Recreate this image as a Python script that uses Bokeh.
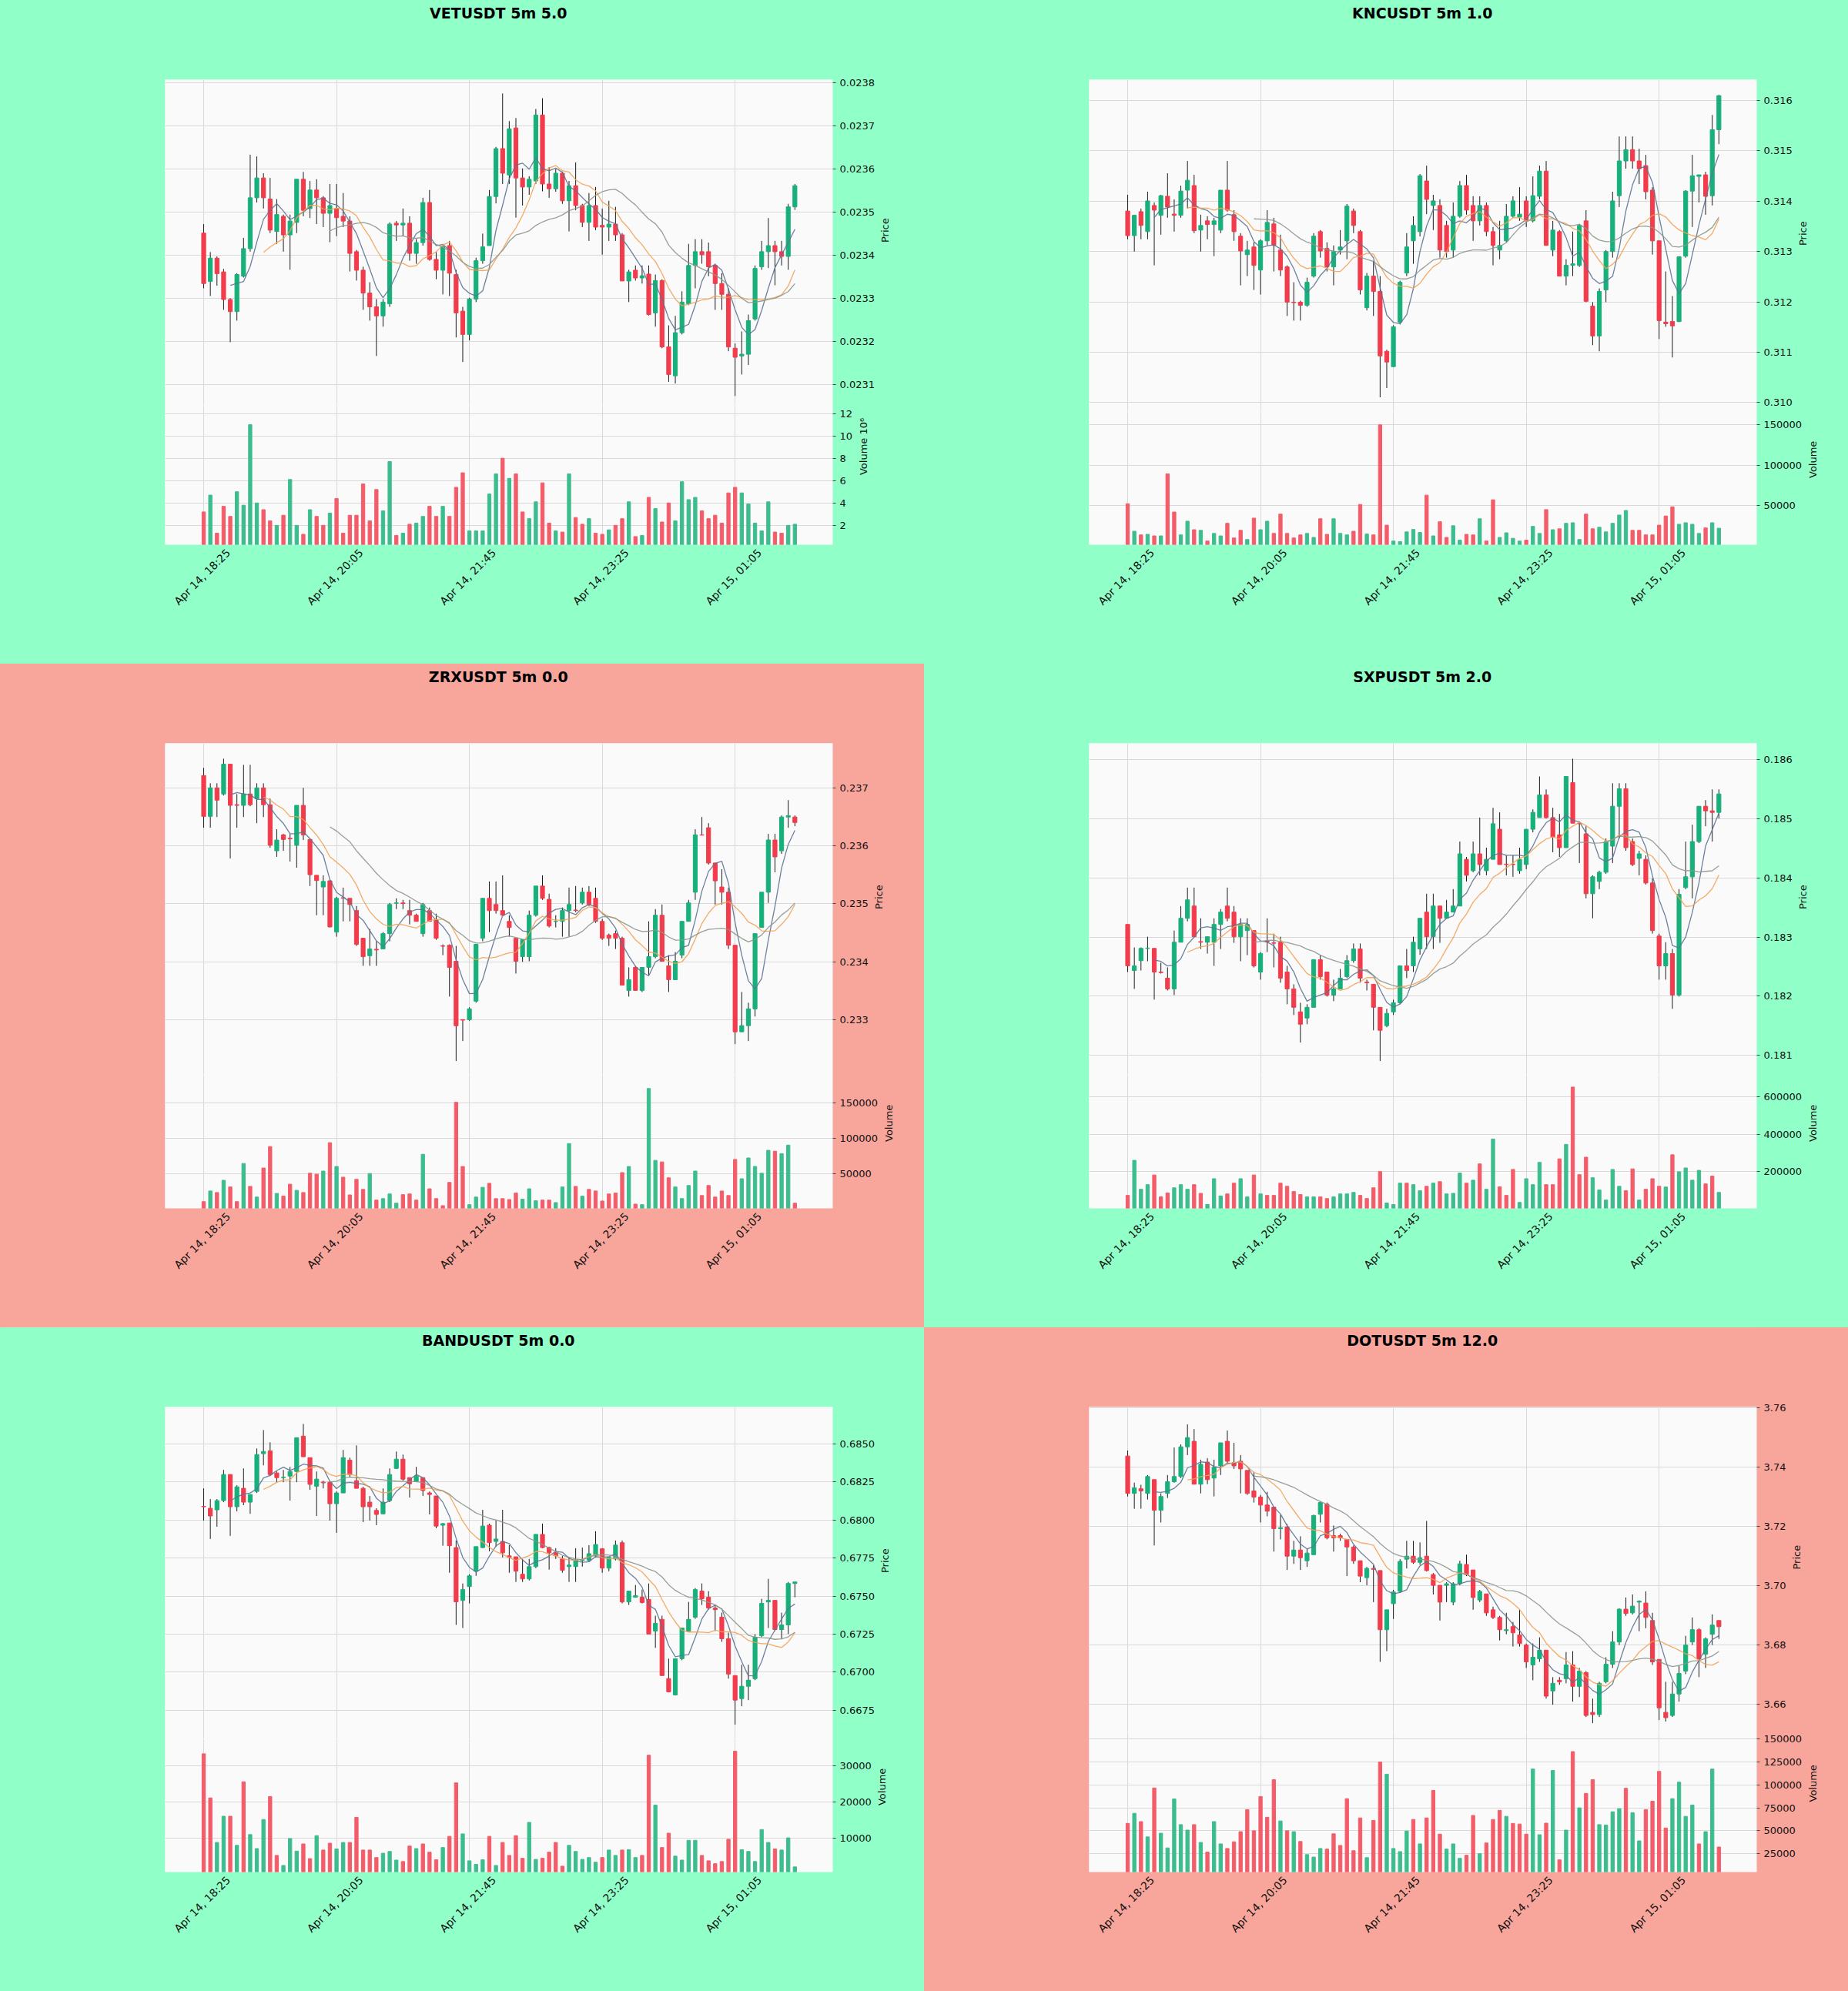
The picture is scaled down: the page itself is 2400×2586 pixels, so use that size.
import math
import numpy as np
import pandas as pd
from bokeh.plotting import figure
from bokeh.layouts import column, row
from bokeh.models import Range1d, FixedTicker, Grid, PrintfTickFormatter, ColumnDataSource
from bokeh.core.properties import value
from bokeh.embed import file_html
from bokeh.resources import INLINE

# ---------------- data ----------------
TIME_TICKS = [0, 20, 40, 60, 80]
TIME_LABELS = ["Apr 14, 18:25", "Apr 14, 20:05", "Apr 14, 21:45", "Apr 14, 23:25", "Apr 15, 01:05"]
MAV_PERIODS = [5, 10, 20]

VET_O = [0.023451,0.023339,0.023393,0.023361,0.023297,0.023269,0.023351,0.023415,0.023533,0.023579,
0.023530,0.023455,0.023490,0.023447,0.023476,0.023576,0.023508,0.023551,0.023533,0.023497,
0.023508,0.023490,0.023479,0.023408,0.023365,0.023312,0.023280,0.023259,0.023287,0.023474,
0.023470,0.023474,0.023404,0.023429,0.023522,0.023390,0.023365,0.023422,0.023355,0.023270,
0.023216,0.023298,0.023387,0.023422,0.023536,0.023647,0.023586,0.023695,0.023579,0.023558,
0.023572,0.023725,0.023565,0.023554,0.023590,0.023526,0.023561,0.023515,0.023476,0.023515,
0.023469,0.023465,0.023472,0.023447,0.023340,0.023365,0.023347,0.023356,0.023266,0.023341,
0.023187,0.023120,0.023220,0.023287,0.023376,0.023408,0.023408,0.023376,0.023334,0.023309,
0.023184,0.023166,0.023170,0.023252,0.023373,0.023408,0.023422,0.023408,0.023397,0.023512]
VET_H = [0.023472,0.023407,0.023397,0.023368,0.023300,0.023358,0.023440,0.023633,0.023629,0.023590,
0.023579,0.023530,0.023494,0.023494,0.023576,0.023593,0.023572,0.023576,0.023537,0.023565,
0.023565,0.023544,0.023490,0.023412,0.023373,0.023337,0.023298,0.023298,0.023476,0.023479,
0.023508,0.023490,0.023437,0.023533,0.023551,0.023408,0.023422,0.023433,0.023366,0.023280,
0.023301,0.023394,0.023450,0.023551,0.023651,0.023775,0.023711,0.023718,0.023601,0.023583,
0.023739,0.023764,0.023604,0.023600,0.023594,0.023572,0.023615,0.023519,0.023544,0.023558,
0.023508,0.023526,0.023512,0.023451,0.023366,0.023376,0.023376,0.023376,0.023355,0.023344,
0.023237,0.023259,0.023316,0.023426,0.023437,0.023437,0.023429,0.023380,0.023358,0.023323,
0.023195,0.023223,0.023262,0.023376,0.023433,0.023486,0.023433,0.023433,0.023519,0.023565]
VET_L = [0.023323,0.023305,0.023329,0.023273,0.023198,0.023248,0.023348,0.023408,0.023522,0.023508,
0.023451,0.023426,0.023408,0.023366,0.023451,0.023490,0.023486,0.023472,0.023465,0.023430,
0.023444,0.023465,0.023362,0.023341,0.023273,0.023248,0.023166,0.023234,0.023280,0.023433,
0.023444,0.023387,0.023380,0.023422,0.023387,0.023344,0.023309,0.023305,0.023209,0.023152,
0.023202,0.023291,0.023380,0.023422,0.023520,0.023565,0.023565,0.023487,0.023515,0.023540,
0.023565,0.023548,0.023533,0.023547,0.023519,0.023455,0.023504,0.023465,0.023433,0.023458,
0.023401,0.023433,0.023433,0.023340,0.023291,0.023341,0.023334,0.023260,0.023234,0.023184,
0.023106,0.023102,0.023216,0.023284,0.023323,0.023380,0.023351,0.023273,0.023273,0.023177,
0.023073,0.023123,0.023145,0.023248,0.023366,0.023370,0.023330,0.023376,0.023366,0.023505]
VET_C = [0.023334,0.023393,0.023357,0.023297,0.023269,0.023355,0.023415,0.023533,0.023579,0.023533,
0.023458,0.023494,0.023447,0.023479,0.023576,0.023504,0.023551,0.023533,0.023497,0.023515,
0.023487,0.023479,0.023404,0.023365,0.023312,0.023280,0.023259,0.023291,0.023472,0.023470,
0.023474,0.023404,0.023429,0.023522,0.023390,0.023365,0.023419,0.023358,0.023266,0.023216,
0.023298,0.023387,0.023419,0.023536,0.023647,0.023590,0.023693,0.023579,0.023558,0.023576,
0.023725,0.023565,0.023554,0.023590,0.023526,0.023561,0.023515,0.023476,0.023515,0.023465,
0.023465,0.023472,0.023447,0.023340,0.023361,0.023347,0.023352,0.023262,0.023341,0.023187,
0.023123,0.023220,0.023291,0.023376,0.023408,0.023401,0.023373,0.023334,0.023309,0.023187,
0.023163,0.023170,0.023248,0.023369,0.023408,0.023422,0.023408,0.023397,0.023512,0.023561]
VET_V = [3.2e6,4.7e6,1.3e6,3.7e6,2.8e6,5.0e6,3.8e6,11.0e6,4.0e6,3.4e6,
2.4e6,2.0e6,2.9e6,6.1e6,2.0e6,1.2e6,3.4e6,2.8e6,2.0e6,3.1e6,
4.4e6,1.3e6,2.9e6,2.9e6,5.7e6,2.4e6,5.2e6,3.3e6,7.7e6,1.1e6,
1.3e6,2.1e6,2.2e6,2.8e6,3.7e6,2.8e6,3.7e6,2.8e6,5.4e6,6.7e6,
1.5e6,1.5e6,1.5e6,4.8e6,6.6e6,8.0e6,6.2e6,6.6e6,3.2e6,2.6e6,
4.1e6,5.8e6,2.2e6,1.5e6,1.4e6,6.6e6,2.7e6,2.1e6,2.6e6,1.3e6,
1.2e6,1.6e6,2.0e6,2.6e6,4.1e6,1.0e6,1.1e6,4.5e6,3.5e6,2.3e6,
4.0e6,2.4e6,5.9e6,4.3e6,4.5e6,3.3e6,2.6e6,2.9e6,2.2e6,4.9e6,
5.4e6,4.9e6,3.9e6,2.2e6,1.5e6,4.1e6,1.4e6,1.3e6,2.0e6,2.1e6]

KNC_O = [0.313805,0.313317,0.313793,0.313396,0.313915,0.313720,0.314098,0.313744,0.313720,0.314220,
0.314311,0.313427,0.313610,0.313537,0.313427,0.314220,0.313732,0.313305,0.312939,0.313091,
0.312634,0.313213,0.313549,0.313030,0.312695,0.311994,0.311994,0.311933,0.312512,0.313396,
0.313061,0.312695,0.313030,0.313213,0.313805,0.313396,0.311884,0.312512,0.312207,0.311018,
0.310713,0.311598,0.312573,0.313213,0.313396,0.314402,0.313915,0.313915,0.313518,0.313030,
0.313701,0.314311,0.313915,0.313610,0.313915,0.313396,0.313030,0.313213,0.313701,0.313683,
0.314006,0.313610,0.314098,0.314598,0.313030,0.313396,0.312512,0.312726,0.312726,0.313610,
0.311915,0.311323,0.312238,0.313000,0.314110,0.314800,0.315024,0.314800,0.314707,0.314220,
0.313213,0.311598,0.311610,0.311610,0.312909,0.314201,0.314494,0.314524,0.314110,0.315421]
KNC_H = [0.314128,0.313732,0.313854,0.314189,0.313976,0.314128,0.314555,0.314037,0.314310,0.314800,
0.314524,0.313732,0.313701,0.313671,0.314220,0.314800,0.313823,0.313366,0.313213,0.313183,
0.313244,0.313823,0.313671,0.313335,0.312726,0.312390,0.312024,0.312482,0.313366,0.313427,
0.313183,0.313122,0.313427,0.313945,0.313854,0.313427,0.312573,0.312817,0.312512,0.311049,
0.311537,0.312420,0.313366,0.313701,0.314540,0.314707,0.314128,0.314037,0.313610,0.313976,
0.314402,0.314524,0.314098,0.314098,0.313976,0.313488,0.313610,0.313945,0.314098,0.314280,
0.314098,0.314494,0.314707,0.314800,0.313610,0.313427,0.312848,0.313396,0.313549,0.313823,
0.311994,0.312268,0.313030,0.314189,0.315287,0.315287,0.315287,0.315043,0.314921,0.314280,
0.313213,0.312604,0.312116,0.312909,0.314220,0.314921,0.314524,0.314585,0.315713,0.316110]
KNC_L = [0.313244,0.313000,0.313244,0.313244,0.312726,0.313335,0.313671,0.313396,0.313671,0.313854,
0.313366,0.313000,0.313244,0.312909,0.313366,0.313793,0.313213,0.312329,0.312512,0.312238,
0.312146,0.313122,0.312604,0.312512,0.311720,0.311628,0.311628,0.311902,0.312482,0.312878,
0.312604,0.312329,0.312939,0.312848,0.313366,0.312146,0.311830,0.311720,0.310104,0.310287,
0.310713,0.311550,0.312512,0.312756,0.313300,0.313744,0.313427,0.312878,0.312878,0.312878,
0.313671,0.313732,0.313213,0.313518,0.313305,0.312726,0.312848,0.313183,0.313671,0.313610,
0.313488,0.313580,0.314037,0.313122,0.312909,0.312512,0.312329,0.312512,0.312695,0.311994,
0.311140,0.311018,0.311994,0.312878,0.313884,0.314646,0.314646,0.314340,0.314037,0.312939,
0.311262,0.311506,0.310896,0.311598,0.312878,0.313488,0.313976,0.313732,0.313915,0.315134]
KNC_C = [0.313317,0.313720,0.313518,0.314006,0.313823,0.314110,0.313884,0.313720,0.314201,0.314415,
0.313415,0.313518,0.313537,0.313610,0.314220,0.313823,0.313396,0.313012,0.313030,0.312726,
0.313213,0.313579,0.313122,0.312634,0.311994,0.311985,0.311933,0.312390,0.313305,0.313012,
0.312695,0.313000,0.313091,0.313902,0.313518,0.312238,0.312512,0.312207,0.310927,0.310805,
0.311506,0.312390,0.313091,0.313518,0.314506,0.314037,0.314006,0.313030,0.313000,0.313701,
0.314311,0.313823,0.313610,0.313915,0.313396,0.313122,0.313122,0.313701,0.314006,0.313744,
0.313610,0.314110,0.314598,0.313122,0.313427,0.312512,0.312726,0.312756,0.313518,0.312012,
0.311323,0.312207,0.313000,0.314006,0.314800,0.315024,0.314800,0.314646,0.314189,0.313213,
0.311628,0.311567,0.311524,0.312896,0.314201,0.314506,0.314524,0.314098,0.315421,0.316098]
KNC_V = [52400,18500,14000,14700,12800,12800,89300,42200,14000,30900,
20400,19600,6400,15800,12800,28300,10200,19600,8300,34700,
20400,30900,15800,39600,15800,10200,14000,15800,10900,33900,
14700,33900,15800,14000,18500,51600,15100,14000,149700,26000,
6400,5700,17700,20700,17000,63000,12800,30200,10900,25300,
7500,14700,14000,33900,6400,57300,10900,16600,9800,6400,
7500,24500,15800,45200,20400,21500,28300,29000,8300,39600,
21500,23400,17700,28300,38500,44100,19600,19600,14000,14000,
26000,37300,48600,27100,29000,27100,15800,22600,29000,22200]

ZRX_O = [0.237212,0.236508,0.237000,0.236894,0.237407,0.236709,0.236698,0.236894,0.236815,0.237000,
0.236709,0.235915,0.236190,0.236130,0.236011,0.236698,0.236110,0.235492,0.235291,0.235397,
0.234513,0.235106,0.235095,0.234884,0.234407,0.234106,0.234217,0.234222,0.234487,0.235011,
0.235016,0.234884,0.234804,0.234487,0.234884,0.234725,0.234275,0.234286,0.234011,0.233005,
0.233005,0.233323,0.234407,0.235095,0.234989,0.234884,0.234698,0.234407,0.234090,0.234090,
0.234804,0.235307,0.235079,0.234698,0.234698,0.234884,0.234894,0.235016,0.235201,0.235095,
0.234698,0.234460,0.234487,0.234407,0.233508,0.233905,0.233508,0.233905,0.234090,0.234804,
0.233931,0.233693,0.234116,0.234698,0.235201,0.236190,0.236312,0.235704,0.235291,0.235201,
0.234286,0.232794,0.232900,0.233190,0.234593,0.235201,0.236101,0.235915,0.236497,0.236497]
ZRX_H = [0.237344,0.237079,0.237079,0.237503,0.237407,0.236894,0.237397,0.237397,0.237079,0.237079,
0.236815,0.236286,0.236206,0.236206,0.236698,0.237000,0.236127,0.235492,0.235492,0.235413,
0.235122,0.235280,0.235095,0.234963,0.234407,0.234566,0.234354,0.234513,0.235016,0.235095,
0.235069,0.235069,0.234831,0.235016,0.234937,0.234831,0.234302,0.234302,0.234275,0.233005,
0.233217,0.234302,0.235095,0.235386,0.235386,0.235492,0.234804,0.234407,0.234381,0.234884,
0.235307,0.235492,0.235175,0.234804,0.234937,0.235280,0.235307,0.235280,0.235307,0.235280,
0.234740,0.234487,0.234540,0.234434,0.233905,0.233931,0.233905,0.234698,0.234910,0.234989,
0.234116,0.234169,0.234698,0.235069,0.236286,0.236497,0.236392,0.235704,0.235598,0.235280,
0.234286,0.233481,0.233296,0.234487,0.235201,0.236206,0.236206,0.236524,0.236788,0.236524]
ZRX_L = [0.236312,0.236312,0.236497,0.236868,0.235783,0.236312,0.236497,0.236683,0.236392,0.236497,
0.235968,0.235810,0.235915,0.235730,0.235624,0.236100,0.235307,0.234804,0.234804,0.234593,
0.234434,0.234698,0.234698,0.234275,0.233931,0.233931,0.233931,0.234222,0.234354,0.234910,
0.234910,0.234646,0.234698,0.234434,0.234698,0.234381,0.234116,0.233402,0.232291,0.232635,
0.232984,0.233296,0.234354,0.234513,0.234831,0.234804,0.234434,0.233799,0.234000,0.234011,
0.234780,0.235069,0.234593,0.234593,0.234434,0.234434,0.234857,0.234989,0.234963,0.234672,
0.234380,0.234275,0.234222,0.233598,0.233402,0.233508,0.233480,0.233772,0.234063,0.234011,
0.233481,0.233693,0.234063,0.234698,0.235069,0.236180,0.235677,0.234989,0.234989,0.234222,
0.232582,0.232794,0.232635,0.233058,0.234593,0.235016,0.235545,0.235862,0.236312,0.236339]
ZRX_C = [0.236508,0.237000,0.236788,0.237407,0.236698,0.236698,0.236894,0.236709,0.237000,0.236709,
0.236011,0.236100,0.236110,0.236120,0.236698,0.236190,0.235503,0.235402,0.235386,0.234603,
0.235095,0.235100,0.234989,0.234302,0.234090,0.234222,0.234206,0.234487,0.234989,0.235016,
0.235005,0.234804,0.234698,0.234989,0.234698,0.234407,0.234270,0.233905,0.232899,0.232995,
0.233190,0.234302,0.235095,0.234884,0.234884,0.234804,0.234593,0.234011,0.234381,0.234804,
0.235307,0.235095,0.234619,0.234698,0.234884,0.234989,0.234884,0.235201,0.234989,0.234698,
0.234407,0.234407,0.234407,0.233598,0.233693,0.233508,0.233905,0.234090,0.234804,0.234011,
0.233693,0.234011,0.234698,0.235016,0.236190,0.236185,0.235704,0.235397,0.235201,0.234286,
0.232794,0.232900,0.233190,0.234487,0.235201,0.236101,0.235810,0.236497,0.236520,0.236402]
ZRX_V = [10000,25200,23000,40400,30900,10000,64300,31700,16500,57800,
88300,21700,17800,34800,26100,23000,50400,49100,53500,93900,
60000,44800,19600,41700,27400,50000,12200,14300,20900,7800,
20000,20900,12200,77400,28300,14300,4300,37400,151300,60000,
5700,16500,30400,36100,14300,14300,13000,22200,13500,28300,
11300,12200,12200,8700,30900,92600,31700,17800,27400,25200,
10900,20900,22200,51300,60000,6500,5700,170900,68700,66500,
43900,30900,14300,33000,53500,18700,33000,16500,25200,18700,
70000,42600,72200,60000,50400,83000,81700,78300,90400,7800]

SXP_O = [0.183212,0.182435,0.182601,0.182808,0.182808,0.182409,0.182306,0.182124,0.182912,0.183316,
0.183523,0.182922,0.182912,0.182912,0.183212,0.183523,0.183420,0.183005,0.183109,0.183109,
0.182409,0.182930,0.182900,0.182912,0.182409,0.182124,0.181736,0.181632,0.181813,0.182617,
0.182409,0.182020,0.182124,0.182332,0.182601,0.182798,0.182238,0.182202,0.181813,0.181503,
0.181736,0.181891,0.182513,0.182513,0.182798,0.183420,0.183005,0.183523,0.183316,0.183420,
0.183523,0.184311,0.184119,0.184404,0.184119,0.184311,0.184819,0.184230,0.184230,0.184119,
0.184223,0.184819,0.185016,0.185399,0.185016,0.184725,0.184508,0.185606,0.184922,0.184741,
0.183731,0.183938,0.184093,0.184534,0.185207,0.185503,0.184611,0.184327,0.184311,0.183912,
0.183016,0.182513,0.182720,0.182021,0.183834,0.184016,0.184611,0.185207,0.185130,0.185104]
SXP_H = [0.183212,0.182824,0.182824,0.183005,0.182808,0.182565,0.182487,0.183109,0.183523,0.183834,
0.183834,0.183316,0.183005,0.183316,0.183472,0.183834,0.183523,0.183316,0.183316,0.183109,
0.182746,0.183316,0.183057,0.183005,0.182513,0.182202,0.181891,0.181865,0.182617,0.182694,
0.182409,0.182280,0.182461,0.182694,0.182891,0.182891,0.182280,0.182202,0.181813,0.181788,
0.181943,0.182513,0.182798,0.183005,0.183316,0.183731,0.183731,0.183523,0.183627,0.183808,
0.184611,0.184352,0.184611,0.185016,0.184508,0.185181,0.185104,0.184378,0.184378,0.184508,
0.184819,0.185155,0.185710,0.185492,0.185181,0.185078,0.185710,0.186010,0.184922,0.184870,
0.184041,0.184119,0.184663,0.185596,0.185596,0.185596,0.184663,0.184456,0.184378,0.183990,
0.183057,0.182912,0.182798,0.183808,0.184611,0.184896,0.185207,0.185311,0.185492,0.185492]
SXP_L = [0.182409,0.182124,0.182435,0.182591,0.181943,0.182383,0.182098,0.182020,0.182912,0.183264,
0.183005,0.182798,0.182720,0.182513,0.182798,0.183264,0.182902,0.182591,0.182694,0.182487,
0.182280,0.182746,0.182487,0.182228,0.181865,0.181684,0.181218,0.181528,0.181813,0.182280,
0.181995,0.181917,0.182124,0.182306,0.182565,0.182228,0.182098,0.181425,0.180907,0.181477,
0.181684,0.181865,0.182306,0.182409,0.182700,0.182798,0.182798,0.182902,0.183316,0.183420,
0.183523,0.183938,0.184093,0.184041,0.184041,0.184311,0.184223,0.184041,0.184016,0.184067,
0.184145,0.184767,0.185016,0.185000,0.184430,0.184352,0.184508,0.184922,0.184249,0.183653,
0.183316,0.183808,0.184067,0.184249,0.184663,0.184456,0.184197,0.184041,0.183886,0.183057,
0.182280,0.182280,0.181788,0.181995,0.183808,0.183653,0.184585,0.184870,0.184611,0.185000]
SXP_C = [0.182513,0.182513,0.182808,0.182813,0.182409,0.182400,0.182124,0.182912,0.183316,0.183627,
0.183005,0.182912,0.183005,0.183212,0.183420,0.183316,0.183005,0.183212,0.183212,0.182513,
0.182720,0.182920,0.182895,0.182306,0.182124,0.181813,0.181528,0.181813,0.182617,0.182332,
0.182020,0.182124,0.182306,0.182601,0.182798,0.182306,0.182228,0.181813,0.181425,0.181710,
0.181891,0.182513,0.182435,0.182912,0.183316,0.183005,0.183523,0.183316,0.183420,0.183523,
0.184404,0.184041,0.184404,0.184223,0.184311,0.184912,0.184223,0.184223,0.184223,0.184311,
0.184819,0.185104,0.185399,0.185016,0.184689,0.184508,0.185710,0.184922,0.184912,0.183731,
0.184016,0.184093,0.184611,0.185207,0.185503,0.184508,0.184223,0.184404,0.183912,0.183109,
0.182513,0.182720,0.182021,0.183720,0.184016,0.184611,0.185207,0.185130,0.185104,0.185415]
SXP_V = [70000,259000,103000,128000,180000,62000,83000,111000,128000,103000,
128000,81000,21000,160000,67000,78000,136000,160000,62000,180000,
78000,70000,70000,136000,119000,91000,75000,62000,62000,62000,
53000,62000,78000,78000,86000,70000,53000,111000,198000,29000,
21000,136000,136000,128000,95000,119000,136000,144000,78000,81000,
190000,136000,152000,240000,103000,374000,116000,70000,210000,32000,
160000,128000,248000,128000,128000,267000,345000,654000,182000,276000,
165000,99000,45000,210000,119000,95000,213000,45000,103000,160000,
119000,115000,289000,197000,218000,152000,205000,132000,174000,86000]

BAND_O = [0.680887,0.680766,0.680665,0.681270,0.682984,0.680867,0.682077,0.681170,0.681875,0.684355,
0.684536,0.683085,0.682782,0.682883,0.683185,0.685504,0.684093,0.682218,0.682480,0.682480,
0.681069,0.681774,0.683931,0.682581,0.682077,0.681170,0.680625,0.680403,0.681270,0.683387,
0.683992,0.682782,0.682540,0.682782,0.681774,0.681573,0.679657,0.679798,0.678185,0.674718,
0.675625,0.676633,0.678185,0.679657,0.678589,0.678589,0.677641,0.677581,0.676431,0.676129,
0.676935,0.679052,0.678185,0.677843,0.677440,0.676935,0.676935,0.677339,0.677339,0.677641,
0.678105,0.676835,0.677440,0.678508,0.674617,0.674919,0.674919,0.674778,0.672702,0.673468,
0.669577,0.668508,0.670887,0.672702,0.673609,0.675323,0.674919,0.674214,0.673609,0.672198,
0.669778,0.668266,0.669073,0.669577,0.672399,0.674617,0.674718,0.672802,0.673105,0.675827]
BAND_H = [0.682077,0.681371,0.681371,0.683286,0.682984,0.682278,0.683387,0.681673,0.684698,0.685907,
0.685101,0.683185,0.683286,0.683488,0.685403,0.686310,0.684093,0.683185,0.682580,0.682580,
0.681875,0.684597,0.684093,0.684899,0.682177,0.681573,0.680766,0.682077,0.683387,0.684496,
0.684294,0.682782,0.683488,0.682782,0.681875,0.681573,0.679798,0.679798,0.678649,0.675827,
0.676431,0.678246,0.680665,0.679758,0.679960,0.680665,0.678347,0.677581,0.677440,0.677440,
0.679052,0.679758,0.678246,0.678145,0.677641,0.677540,0.678145,0.678185,0.678347,0.679254,
0.678145,0.677440,0.678649,0.678649,0.675323,0.675726,0.675423,0.675827,0.673710,0.673710,
0.670887,0.670887,0.672903,0.674617,0.675524,0.675827,0.675323,0.674415,0.673911,0.672601,
0.669778,0.670484,0.670484,0.672500,0.674819,0.676129,0.674718,0.673911,0.675927,0.675927]
BAND_L = [0.679960,0.678750,0.679556,0.681170,0.678952,0.680565,0.680970,0.680403,0.681774,0.683589,
0.682883,0.682480,0.682480,0.681270,0.682480,0.684153,0.681976,0.680262,0.682077,0.679960,
0.679153,0.681774,0.682782,0.682077,0.679859,0.679960,0.679657,0.680403,0.681170,0.683347,
0.682580,0.681472,0.682480,0.681573,0.680363,0.679456,0.678306,0.676532,0.673105,0.672903,
0.674516,0.676331,0.678145,0.677944,0.678246,0.677540,0.676532,0.675927,0.675927,0.676028,
0.676835,0.678145,0.676734,0.677440,0.676532,0.675927,0.675927,0.676935,0.677238,0.677540,
0.676532,0.676633,0.677339,0.674516,0.674415,0.674900,0.674516,0.672500,0.671593,0.669778,
0.668670,0.668468,0.670787,0.672702,0.673508,0.674415,0.674113,0.672702,0.671996,0.669577,
0.666552,0.667762,0.668165,0.669476,0.672298,0.672903,0.672702,0.672198,0.672500,0.674919]
BAND_C = [0.680867,0.680262,0.681270,0.682984,0.680867,0.682177,0.681170,0.681673,0.684294,0.684496,
0.682984,0.682782,0.682800,0.683185,0.685403,0.684153,0.682339,0.682681,0.682440,0.681069,
0.681774,0.684093,0.682984,0.682077,0.680867,0.680867,0.680363,0.681170,0.682984,0.683992,
0.682681,0.682379,0.682883,0.681935,0.681673,0.679597,0.679758,0.678306,0.674617,0.675423,
0.676331,0.678246,0.679597,0.678508,0.678750,0.677843,0.677540,0.676633,0.676129,0.676935,
0.679052,0.678185,0.677843,0.677641,0.676694,0.677036,0.677379,0.677379,0.677782,0.678387,
0.676835,0.677540,0.678347,0.674617,0.675323,0.675020,0.674577,0.672500,0.673206,0.669778,
0.668710,0.670887,0.672903,0.673468,0.675423,0.674819,0.674214,0.674113,0.672198,0.669879,
0.668165,0.669073,0.669476,0.672298,0.674516,0.674718,0.672802,0.673105,0.675827,0.675927]
BAND_V = [33400,21100,8700,16000,16000,7900,25600,10900,7000,15100,
21500,5100,2300,9800,6300,8300,4200,10600,6600,8500,
6900,8700,8700,15700,6600,6600,4500,5700,6200,3800,
3400,7700,7000,8300,6000,3900,7300,10400,25300,11100,
3600,2600,3900,10400,2300,8700,5100,10600,4300,14300,
4000,4300,6000,8700,2100,7900,6200,4000,4500,3200,
4500,6600,5100,6600,6700,4500,5100,33000,19100,7300,
11300,4900,3800,9300,9300,5100,3600,2800,3400,9600,
34100,6700,6200,3400,12300,8700,6900,6600,10000,1900]

DOT_O = [3.74368,3.73108,3.73263,3.73108,3.73572,3.72539,3.73108,3.73500,3.73676,3.74678,
3.74864,3.73418,3.74161,3.73624,3.74037,3.74864,3.74141,3.74192,3.73882,3.73190,
3.72984,3.72715,3.72643,3.71920,3.71972,3.70991,3.71197,3.70836,3.71042,3.72405,
3.72746,3.71682,3.71682,3.71558,3.71300,3.70836,3.70267,3.70577,3.70505,3.68511,
3.69389,3.69802,3.70887,3.70991,3.70784,3.70991,3.70370,3.70008,3.70008,3.69441,
3.70060,3.70711,3.70525,3.69513,3.69719,3.69182,3.68924,3.68480,3.68614,3.68335,
3.67994,3.67322,3.67530,3.67819,3.66445,3.66807,3.66859,3.67323,3.66600,3.67065,
3.65722,3.65650,3.66755,3.67344,3.68098,3.69203,3.69079,3.69441,3.69410,3.68820,
3.67509,3.65722,3.65619,3.66342,3.67116,3.68098,3.68511,3.67685,3.68356,3.68820]
DOT_H = [3.74554,3.73469,3.73397,3.73727,3.73572,3.73108,3.73727,3.74657,3.74760,3.75432,
3.75277,3.74244,3.74296,3.74244,3.74812,3.75225,3.74812,3.74399,3.73882,3.73831,
3.73056,3.73159,3.72643,3.72385,3.72075,3.71507,3.71661,3.71248,3.72385,3.72849,
3.72798,3.72023,3.71750,3.71558,3.71352,3.70836,3.70628,3.70680,3.70505,3.69182,
3.69854,3.70887,3.71507,3.71507,3.71455,3.72178,3.70422,3.70008,3.70112,3.70112,
3.70836,3.71042,3.70525,3.69854,3.69719,3.69286,3.68976,3.69079,3.68769,3.69182,
3.68046,3.68046,3.68253,3.67819,3.66910,3.66910,3.67757,3.67788,3.67220,3.67116,
3.66187,3.66755,3.67581,3.68459,3.69234,3.69596,3.69699,3.69500,3.69802,3.69079,
3.67509,3.66755,3.66755,3.67302,3.68304,3.68924,3.68562,3.68253,3.69027,3.68820]
DOT_L = [3.73004,3.72591,3.72591,3.72901,3.71352,3.72126,3.72953,3.73469,3.73624,3.74399,
3.73418,3.73108,3.73418,3.73004,3.73727,3.74141,3.73934,3.73108,3.73056,3.72798,
3.72126,3.72333,3.71145,3.71558,3.70525,3.70732,3.70525,3.70628,3.71042,3.72126,
3.71558,3.71145,3.71507,3.70319,3.70732,3.70112,3.70008,3.69441,3.67426,3.67788,
3.68872,3.69750,3.70577,3.70732,3.70700,3.70474,3.69699,3.68820,3.69441,3.69337,
3.70008,3.70319,3.69182,3.69441,3.68976,3.68872,3.68149,3.68356,3.67943,3.67943,
3.67220,3.66807,3.67426,3.66187,3.65980,3.66652,3.66704,3.66083,3.66239,3.65567,
3.65360,3.65567,3.66704,3.67220,3.67994,3.68976,3.69027,3.68459,3.68562,3.67323,
3.65463,3.65412,3.65567,3.66083,3.67013,3.67994,3.66910,3.67220,3.67994,3.68201]
DOT_C = [3.73108,3.73294,3.73190,3.73676,3.72539,3.73004,3.73500,3.73676,3.74678,3.74988,
3.73418,3.74089,3.73572,3.73986,3.74812,3.74192,3.74037,3.73934,3.73108,3.72984,
3.72715,3.72508,3.71920,3.71950,3.70991,3.71197,3.70939,3.71094,3.72364,3.72798,
3.71610,3.71610,3.71610,3.71300,3.70836,3.70319,3.70577,3.70546,3.68511,3.69182,
3.69782,3.70815,3.70991,3.70784,3.70939,3.70505,3.70008,3.69441,3.70060,3.70060,
3.70732,3.70370,3.69596,3.69802,3.69079,3.68924,3.68511,3.68511,3.68407,3.68046,
3.67426,3.67581,3.67819,3.66270,3.66704,3.66755,3.67323,3.66600,3.67116,3.65619,
3.65650,3.66704,3.67344,3.68098,3.69203,3.69058,3.69306,3.69472,3.68924,3.67426,
3.65877,3.65546,3.66342,3.67034,3.67994,3.68511,3.67529,3.68201,3.68666,3.68614]
DOT_V = [58000,69000,60000,43300,96700,47300,31300,84700,56700,50700,
56700,37300,26700,60000,35700,30700,38000,49000,73000,50000,
87300,64700,105700,60700,50000,49000,38300,24000,21300,30700,
30000,46700,34000,85000,28300,64000,20700,61300,125000,111700,
30700,27300,49700,62300,35700,64000,94000,46300,30000,35700,
20000,23300,66700,25000,36700,62300,72300,65700,58000,57300,
46300,117300,45700,58300,115700,18300,50700,136300,75000,90700,
105700,56700,56300,70700,74000,96300,69700,39000,73000,82300,
114700,53000,85000,103000,65700,78000,35700,49000,117300,32300]

PANELS = [
    dict(title="VETUSDT 5m 5.0", bg="green", o=VET_O, h=VET_H, l=VET_L, c=VET_C, v=VET_V,
         pr=(0.023038, 0.023807), pt=[0.0231,0.0232,0.0233,0.0234,0.0235,0.0236,0.0237,0.0238], pf="%.4f",
         vr=(0.27e6, 12.21e6), vt=[2e6,4e6,6e6,8e6,10e6,12e6], vl=["2","4","6","8","10","12"],
         vlab="Volume   10\u2076", split=526),
    dict(title="KNCUSDT 5m 1.0", bg="green", o=KNC_O, h=KNC_H, l=KNC_L, c=KNC_C, v=KNC_V,
         pr=(0.309829, 0.316415), pt=[0.310,0.311,0.312,0.313,0.314,0.315,0.316], pf="%.3f",
         vr=(1900, 166600), vt=[50000,100000,150000], vl=["50000","100000","150000"],
         vlab="Volume", split=534),
    dict(title="ZRXUSDT 5m 0.0", bg="red", o=ZRX_O, h=ZRX_H, l=ZRX_L, c=ZRX_C, v=ZRX_V,
         pr=(0.232053, 0.237767), pt=[0.233,0.234,0.235,0.236,0.237], pf="%.3f",
         vr=(435, 190400), vt=[50000,100000,150000], vl=["50000","100000","150000"],
         vlab="Volume", split=534),
    dict(title="SXPUSDT 5m 2.0", bg="green", o=SXP_O, h=SXP_H, l=SXP_L, c=SXP_C, v=SXP_V,
         pr=(0.180674, 0.186269), pt=[0.181,0.182,0.183,0.184,0.185,0.186], pf="%.3f",
         vr=(0, 720100), vt=[200000,400000,600000], vl=["200000","400000","600000"],
         vlab="Volume", split=534),
    dict(title="BANDUSDT 5m 0.0", bg="green", o=BAND_O, h=BAND_H, l=BAND_L, c=BAND_C, v=BAND_V,
         pr=(0.665645, 0.687419), pt=[0.6675,0.6700,0.6725,0.6750,0.6775,0.6800,0.6825,0.6850], pf="%.4f",
         vr=(470, 37660), vt=[10000,20000,30000], vl=["10000","20000","30000"],
         vlab="Volume", split=534),
    dict(title="DOTUSDT 5m 12.0", bg="red", o=DOT_O, h=DOT_H, l=DOT_L, c=DOT_C, v=DOT_V,
         pr=(3.64843, 3.7602), pt=[3.66,3.68,3.70,3.72,3.74,3.76], pf="%.2f",
         vr=(5000, 150650), vt=[25000,50000,75000,100000,125000,150000],
         vl=["25000","50000","75000","100000","125000","150000"], vlab="Volume", split=525),
]

# ---------------- style / geometry (reference pixel layout) ----------------
BG = {"green": "#90ffc8", "red": "#f8a59b"}
UP, DOWN = "#17b07a", "#f23b4b"
VUP, VDOWN = "#3dbd8e", "#f35d69"
MAV_COLORS = ["#5d7394", "#f2a255", "#8c968c"]
PLOT_BG = "#fafafa"
GRID = "#d9d9d9"
FONT = "DejaVu Sans"

PW, PHT = 1200, 862     # panel size
ML, FRAME_W = 214, 867
MR = PW - ML - FRAME_W
TITLE_H = 40
FRAME_TOP = 103         # price frame top (panel px)
VOL_BOT = 707           # volume frame bottom (panel px)
REF_SPLIT = 533.5       # price/volume boundary that the ranges refer to
XR = (-5.8, 94.7)
XLABEL_SHIFT = 3.7      # rotated labels centred on their tick, as in the reference


def style_axis(ax, size="13px"):
    ax.axis_line_color = None
    ax.major_tick_line_color = "#444444"
    ax.major_tick_out = 4
    ax.major_tick_in = 0
    ax.minor_tick_line_color = None
    ax.major_label_text_font = FONT
    ax.major_label_text_font_size = size
    ax.major_label_text_color = "#111111"
    ax.axis_label_text_font = FONT
    ax.axis_label_text_font_size = "13px"
    ax.axis_label_text_font_style = "normal"
    ax.axis_label_text_color = "#111111"
    ax.axis_label_standoff = 11


def make_panel(s):
    bg = BG[s["bg"]]
    o, h, l, c, v = (np.array(s[k], dtype=float) for k in "ohlcv")
    for arr in (o, h, l, c, v):
        if len(arr) != 90:
            raise ValueError(s["title"] + " length %d" % len(arr))
    n = len(c)
    x = np.arange(n)
    hi = np.maximum(h, np.maximum(o, c))
    lo = np.minimum(l, np.minimum(o, c))
    up = c >= o
    src = ColumnDataSource(dict(
        x=x, hi=hi, lo=lo,
        top=np.maximum(o, c), bot=np.minimum(o, c),
        col=[UP if u else DOWN for u in up],
        vcol=[VUP if u else VDOWN for u in up],
        vol=v,
    ))
    xr = Range1d(*XR)
    split = s["split"]

    # ---- title strip
    t = figure(width=PW, height=TITLE_H, x_range=Range1d(0, PW), y_range=Range1d(0, TITLE_H),
               toolbar_location=None, x_axis_location=None, y_axis_location=None,
               min_border=0, output_backend="svg")
    t.outline_line_color = None
    t.background_fill_color = bg
    t.border_fill_color = bg
    t.xgrid.visible = False
    t.ygrid.visible = False
    t.text(x=[599], y=[TITLE_H - 16.5], text=[s["title"]],
           text_align="center", text_baseline="middle", text_font=value(FONT),
           text_font_size="19px", text_font_style="bold", text_color="#000000")

    # ---- price
    plo, phi = s["pr"]
    pfh = split - FRAME_TOP
    plo2 = phi - (phi - plo) * pfh / (REF_SPLIT - FRAME_TOP)
    top_border = FRAME_TOP - TITLE_H
    p = figure(width=PW, height=top_border + pfh, x_range=xr, y_range=Range1d(plo2, phi),
               toolbar_location=None, x_axis_location=None, y_axis_location="right",
               min_border_left=ML, min_border_right=MR, min_border_top=top_border, min_border_bottom=0,
               output_backend="svg")
    p.background_fill_color = PLOT_BG
    p.border_fill_color = bg
    p.outline_line_color = None
    p.grid.grid_line_color = None
    p.add_layout(Grid(dimension=0, ticker=FixedTicker(ticks=TIME_TICKS), grid_line_color=GRID))
    p.add_layout(Grid(dimension=1, ticker=FixedTicker(ticks=s["pt"]), grid_line_color=GRID))
    p.segment(x0="x", y0="lo", x1="x", y1="hi", source=src, line_color="#1a1a1a", line_width=1)
    p.vbar(x="x", top="top", bottom="bot", width=0.6, source=src,
           fill_color="col", line_color="col", line_width=1)
    cs = pd.Series(c)
    for per, col in zip(MAV_PERIODS, MAV_COLORS):
        m = cs.rolling(per).mean().to_numpy()
        p.line(x, m, line_color=col, line_width=1.3, line_alpha=0.9)
    ax = p.yaxis[0]
    ax.ticker = FixedTicker(ticks=s["pt"])
    ax.formatter = PrintfTickFormatter(format=s["pf"])
    ax.axis_label = "Price"
    style_axis(ax)
    ax.axis_label_orientation = math.pi / 2

    # ---- volume
    vlo, vhi = s["vr"]
    vfh = VOL_BOT - split
    vhi2 = vlo + (vhi - vlo) * (VOL_BOT + 0.5 - split) / (VOL_BOT + 0.5 - REF_SPLIT)
    bottom_border = PHT - TITLE_H - (top_border + pfh) - vfh
    q = figure(width=PW, height=vfh + bottom_border, x_range=xr, y_range=Range1d(vlo, vhi2),
               toolbar_location=None, y_axis_location="right",
               min_border_left=ML, min_border_right=MR, min_border_top=0,
               min_border_bottom=bottom_border, output_backend="svg")
    q.background_fill_color = PLOT_BG
    q.border_fill_color = bg
    q.outline_line_color = None
    q.grid.grid_line_color = None
    q.add_layout(Grid(dimension=0, ticker=FixedTicker(ticks=TIME_TICKS), grid_line_color=GRID))
    q.add_layout(Grid(dimension=1, ticker=FixedTicker(ticks=s["vt"]), grid_line_color=GRID))
    q.vbar(x="x", top="vol", bottom=0, width=0.5, source=src, fill_color="vcol", line_color="vcol")
    vax = q.yaxis[0]
    vax.ticker = FixedTicker(ticks=s["vt"])
    vax.major_label_overrides = {int(t_): lab for t_, lab in zip(s["vt"], s["vl"])}
    vax.axis_label = s["vlab"]
    style_axis(vax)
    vax.axis_label_orientation = math.pi / 2

    # x axis: rotated labels, centred on their ticks like the reference
    xax = q.xaxis[0]
    label_pos = [t_ + XLABEL_SHIFT for t_ in TIME_TICKS]
    xax.ticker = FixedTicker(ticks=label_pos)
    xax.major_label_overrides = {lp: lab for lp, lab in zip(label_pos, TIME_LABELS)}
    xax.major_label_orientation = math.pi / 4
    style_axis(xax, size="14px")
    xax.major_tick_line_color = None
    xax.major_label_standoff = 4

    # container background: panel colour, with the plot-area colour behind the frames
    # so that sub-pixel seams between the stacked canvases stay invisible
    bg_css = (f"linear-gradient({PLOT_BG}, {PLOT_BG}) {ML}px {FRAME_TOP}px / "
              f"{FRAME_W}px {VOL_BOT - FRAME_TOP}px no-repeat, {bg}")
    return column(t, p, q, spacing=0, styles={"background": bg_css})


panels = [make_panel(s) for s in PANELS]
layout = column(
    row(panels[0], panels[1], spacing=0),
    row(panels[2], panels[3], spacing=0),
    row(panels[4], panels[5], spacing=0),
    spacing=0,
)

open("out.html", "w").write(file_html(layout, INLINE, title="charts"))
